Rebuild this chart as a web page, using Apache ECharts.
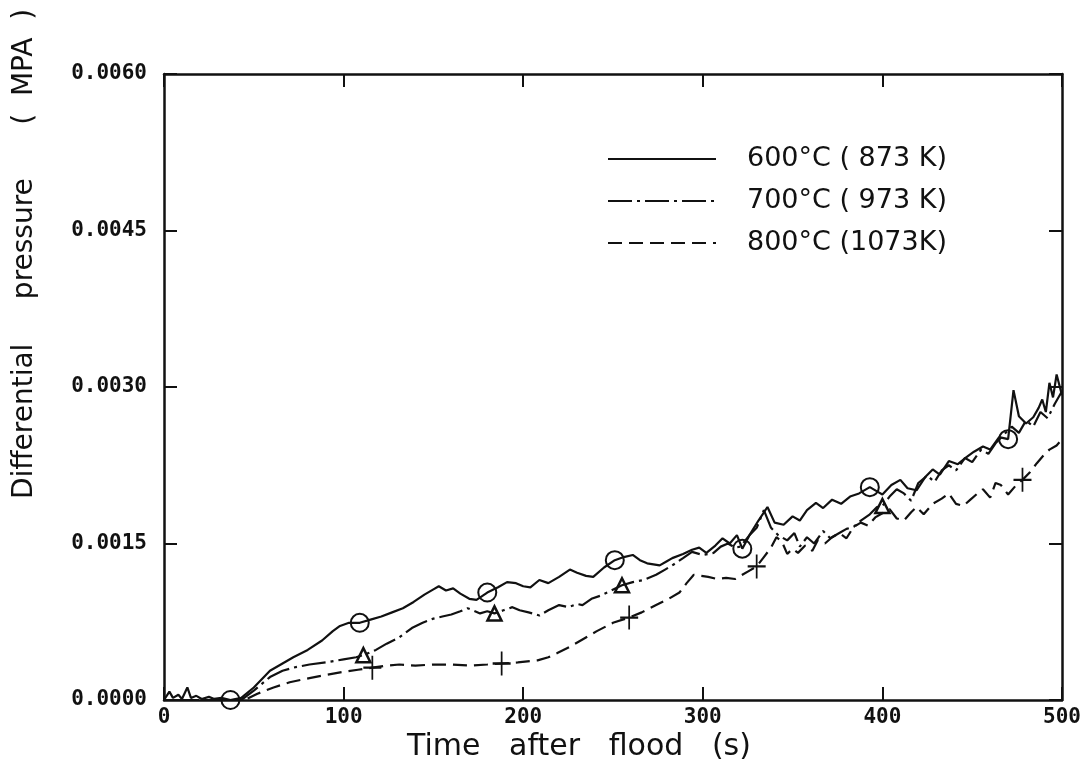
<!DOCTYPE html>
<html>
<head>
<meta charset="utf-8">
<title>Differential pressure after flood</title>
<script src="https://cdn.jsdelivr.net/npm/echarts@6/dist/echarts.min.js"></script>
<style>
  html, body { margin: 0; padding: 0; background: #fff; }
  #chart { width: 1086px; height: 769px; }
</style>
</head>
<body>
<div id="chart"></div>
<script>
// Time after flood (s) and differential pressure (MPa) for each initial wall temperature
const t600 = [0,3,5,8,10,13,15,18,21,25,28,32,37,43,50,59,66,72,80,88,94,98,103,109,115,121,127,133,139,145,150,153,157,161,165,170,174,180,186,191,196,200,204,209,214,220,226,230,235,239,245,251,256,261,265,269,276,280,283,289,294,298,302,307,311,315,319,322,326,331,336,340,345,350,354,358,363,367,372,377,382,387,393,397,400,405,410,414,419,424,428,432,437,442,447,451,456,460,465,470,473,476,480,484,487,489,491,493,495,497,500];
const p600 = [0,0.00008,0.00002,0.00005,0.00001,0.00012,0.00002,0.00004,0.00001,0.00003,0.00001,0.00002,0,0.00002,0.00012,0.00028,0.00035,0.00041,0.00048,0.00057,0.00066,0.00071,0.00074,0.00074,0.00077,0.00080,0.00084,0.00088,0.00094,0.00101,0.00106,0.00109,0.00105,0.00107,0.00102,0.00097,0.00096,0.00103,0.00108,0.00113,0.00112,0.00109,0.00108,0.00115,0.00112,0.00118,0.00125,0.00122,0.00119,0.00118,0.00127,0.00134,0.00137,0.00139,0.00134,0.00131,0.00129,0.00133,0.00136,0.00140,0.00144,0.00146,0.00141,0.00148,0.00155,0.00150,0.00158,0.00145,0.00158,0.00172,0.00185,0.00170,0.00168,0.00176,0.00172,0.00182,0.00189,0.00184,0.00192,0.00188,0.00195,0.00198,0.00204,0.00200,0.00197,0.00206,0.00211,0.00203,0.00201,0.00214,0.00221,0.00216,0.00229,0.00226,0.00233,0.00238,0.00243,0.00240,0.00252,0.00250,0.00297,0.00272,0.00265,0.00271,0.00280,0.00288,0.00276,0.00304,0.00290,0.00312,0.00292];

const t700 = [0,43,50,59,66,72,81,90,100,107,111,118,124,131,138,144,150,155,160,165,169,172,176,180,184,189,194,198,203,209,214,220,225,230,233,238,243,248,255,261,267,274,279,283,289,294,300,306,310,314,318,321,326,330,334,338,342,347,351,354,358,362,367,371,376,380,384,388,393,397,400,404,408,412,416,420,425,429,433,437,441,446,450,455,459,463,468,472,476,480,484,488,492,496,500];
const p700 = [0,0,0.00009,0.00022,0.00028,0.00031,0.00034,0.00036,0.00039,0.00041,0.00043,0.00048,0.00054,0.00060,0.00069,0.00074,0.00078,0.00080,0.00082,0.00085,0.00088,0.00086,0.00083,0.00085,0.00083,0.00086,0.00089,0.00086,0.00084,0.00081,0.00086,0.00091,0.00089,0.00092,0.00091,0.00097,0.00100,0.00104,0.00110,0.00113,0.00115,0.00120,0.00125,0.00129,0.00136,0.00142,0.00139,0.00141,0.00147,0.00150,0.00146,0.00147,0.00158,0.00165,0.00182,0.00165,0.00158,0.00153,0.00160,0.00147,0.00156,0.00150,0.00162,0.00155,0.00160,0.00164,0.00166,0.00172,0.00178,0.00185,0.00186,0.00195,0.00202,0.00198,0.00191,0.00208,0.00215,0.00209,0.00220,0.00225,0.00220,0.00232,0.00228,0.00240,0.00236,0.00246,0.00255,0.00262,0.00256,0.00268,0.00262,0.00276,0.00270,0.00284,0.00296];

const t800 = [0,45,52,61,70,81,90,100,108,116,124,131,140,150,160,170,180,188,197,208,214,219,226,233,241,250,259,266,274,281,287,291,295,299,303,308,313,318,322,326,330,334,338,341,344,347,350,353,357,361,364,368,372,376,380,384,388,392,396,400,404,408,412,416,419,423,428,433,437,441,445,449,453,456,460,463,466,470,474,478,482,486,490,493,497,500];
const p800 = [0,0,0.00006,0.00012,0.00017,0.00021,0.00024,0.00027,0.00029,0.00031,0.00033,0.00034,0.00033,0.00034,0.00034,0.00033,0.00034,0.00035,0.00036,0.00038,0.00041,0.00045,0.00051,0.00058,0.00066,0.00074,0.00079,0.00084,0.00091,0.00097,0.00103,0.00112,0.00120,0.00119,0.00118,0.00116,0.00117,0.00116,0.00120,0.00124,0.00128,0.00137,0.00146,0.00156,0.00152,0.00140,0.00145,0.00141,0.00148,0.00143,0.00153,0.00150,0.00156,0.00160,0.00155,0.00166,0.00170,0.00167,0.00175,0.00179,0.00183,0.00174,0.00172,0.00180,0.00185,0.00178,0.00188,0.00193,0.00198,0.00188,0.00186,0.00192,0.00198,0.00202,0.00194,0.00208,0.00206,0.00197,0.00205,0.00211,0.00218,0.00227,0.00235,0.00240,0.00244,0.00250];

// Times at which each curve carries its identifying symbol
const mark600 = [37,109,180,251,322,393,470];
const mark700 = [111,184,255,400];
const mark800 = [116,188,259,330,478];

const names = ['600°C ( 873 K)', '700°C ( 973 K)', '800°C (1073K)'];
const xTicks = [0, 100, 200, 300, 400, 500];
const yTicks = [0, 0.0015, 0.0030, 0.0045, 0.0060];

const pairs = (t, p) => t.map((v, i) => [v, p[i]]);
const marks = (m, t, p) => m.map(v => [v, p[t.indexOf(v)]]);

const INK = '#111';
const tickFont = { color: INK, fontFamily: 'DejaVu Sans Mono', fontWeight: 'bold', fontSize: 21 };

const chart = echarts.init(document.getElementById('chart'), null, { renderer: 'canvas' });

const xBase = {
  type: 'value', min: xTicks[0], max: xTicks[xTicks.length - 1], interval: 100,
  axisLine: { onZero: false, lineStyle: { color: INK, width: 2.5 } },
  axisTick: { inside: true, length: 13, lineStyle: { color: INK, width: 2 } },
  splitLine: { show: false }
};
const yBase = {
  type: 'value', min: yTicks[0], max: yTicks[yTicks.length - 1], interval: 0.0015,
  axisLine: { onZero: false, lineStyle: { color: INK, width: 2.5 } },
  axisTick: { inside: true, length: 13, lineStyle: { color: INK, width: 2 } },
  splitLine: { show: false }
};

const markStyle = (w) => ({ color: 'rgba(255,255,255,0)', borderColor: INK, borderWidth: w, opacity: 1 });

chart.setOption({
  backgroundColor: '#fff',
  animation: false,
  color: [INK, INK, INK],
  grid: { left: 164, right: 24, top: 74, bottom: 69 },
  xAxis: [
    Object.assign({}, xBase, {
      position: 'bottom',
      axisLabel: Object.assign({ margin: 7, formatter: v => String(v) }, tickFont)
    }),
    Object.assign({}, xBase, { position: 'top', axisLabel: { show: false } })
  ],
  yAxis: [
    Object.assign({}, yBase, {
      position: 'left',
      axisLabel: Object.assign({ margin: 17, formatter: v => v.toFixed(4) }, tickFont)
    }),
    Object.assign({}, yBase, { position: 'right', axisLabel: { show: false } })
  ],
  legend: {
    data: names,
    orient: 'vertical',
    left: 602, top: 140,
    itemWidth: 108, itemHeight: 14, itemGap: 14,
    itemStyle: { opacity: 0 },
    textStyle: {
      color: INK, fontFamily: 'DejaVu Sans', fontSize: 27, lineHeight: 28,
      padding: [0, 0, 0, 26]
    }
  },
  graphic: [
    {
      type: 'text', x: 25, y: 254, rotation: Math.PI / 2,
      style: {
        text: 'Differential     pressure      (  MPA  )',
        fill: INK, font: '28px "DejaVu Sans"',
        textAlign: 'center', textVerticalAlign: 'middle'
      }
    },
    {
      type: 'text', x: 579, y: 747,
      style: {
        text: 'Time   after   flood   (s)',
        fill: INK, font: '30px "DejaVu Sans"',
        textAlign: 'center', textVerticalAlign: 'middle'
      }
    }
  ],
  series: [
    {
      name: names[0], type: 'line', data: pairs(t600, p600),
      symbol: 'none', itemStyle: { color: INK },
      lineStyle: { color: INK, width: 2.2, type: 'solid' }, z: 3
    },
    {
      name: names[1], type: 'line', data: pairs(t700, p700),
      symbol: 'none', itemStyle: { color: INK },
      lineStyle: { color: INK, width: 2.2, type: [24, 5, 3, 5] }, z: 3
    },
    {
      name: names[2], type: 'line', data: pairs(t800, p800),
      symbol: 'none', itemStyle: { color: INK },
      lineStyle: { color: INK, width: 2.2, type: [14, 7] }, z: 3
    },
    {
      name: 'm600', type: 'scatter', data: marks(mark600, t600, p600),
      symbol: 'circle', symbolSize: 18, itemStyle: markStyle(2), z: 4
    },
    {
      name: 'm700', type: 'scatter', data: marks(mark700, t700, p700),
      symbol: 'triangle', symbolSize: 14, itemStyle: markStyle(2.5), z: 4
    },
    {
      name: 'm800', type: 'scatter', data: marks(mark800, t800, p800),
      symbol: 'path://M10,0L10,24M0,12L20,12', symbolSize: [18, 24],
      itemStyle: markStyle(2), z: 4
    }
  ]
});
</script>
</body>
</html>
